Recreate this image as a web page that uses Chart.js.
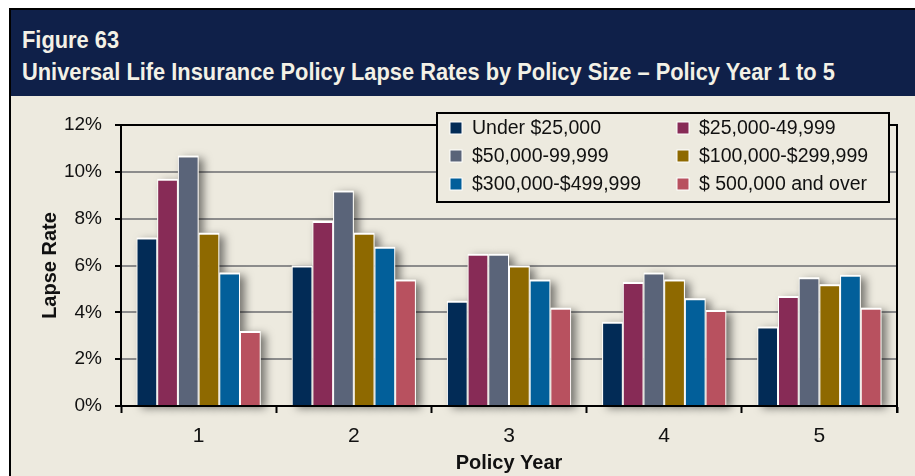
<!DOCTYPE html>
<html>
<head>
<meta charset="utf-8">
<script src="https://cdn.jsdelivr.net/npm/chart.js@4/dist/chart.umd.min.js"></script>
<style>
  body { margin: 0; background: #fff; }
  #fig {
    position: absolute; left: 9px; top: 8px;
    width: 906px; height: 468px;
    border-left: 2px solid #000; border-top: 2px solid #000;
    background: #edeadf; overflow: hidden;
  }
  #hdr {
    position: relative; height: 86px; background: #0f2049; color: #f3f1e6;
    font-family: "Liberation Sans", Arial, sans-serif;
    font-weight: bold; font-size: 24px;
  }
  /* condensed heading face */
  #hdr div { position: absolute; left: 11px; white-space: nowrap; transform: scaleX(0.91); transform-origin: 0 0; }
  .box { position: relative; width: 904px; height: 380px; }
</style>
</head>
<body>
<div id="fig">
  <div id="hdr">
    <div style="top:16px">Figure 63</div>
    <div style="top:48px">Universal Life Insurance Policy Lapse Rates by Policy Size – Policy Year 1 to 5</div>
  </div>
  <div class="box"><canvas id="chart"></canvas></div>
</div>
<script>
const years = ['1', '2', '3', '4', '5'];
const sizeBands = ['Under $25,000', '$25,000-49,999', '$50,000-99,999', '$100,000-$299,999', '$300,000-$499,999', '$ 500,000 and over'];
const bandColors = ['#022b56', '#872b56', '#5a6479', '#8e6900', '#025f9a', '#b8515f'];

// lapse rate, % per policy year
const under25k = [7.2, 6.0, 4.5, 3.6, 3.4];
const from25k = [9.7, 7.9, 6.5, 5.3, 4.7];
const from50k = [10.7, 9.2, 6.5, 5.7, 5.5];
const from100k = [7.4, 7.4, 6.0, 5.4, 5.2];
const from300k = [5.7, 6.8, 5.4, 4.6, 5.6];
const over500k = [3.2, 5.4, 4.2, 4.1, 4.2];

const yTicks = [0, 2, 4, 6, 8, 10, 12];

const bg = '#edeadf';
const sans = '"Liberation Sans", Arial, sans-serif';

const seriesData = [under25k, from25k, from50k, from100k, from300k, over500k];

// soft drop shadow painted behind the bars
const barShadow = {
  id: 'barShadow',
  beforeDatasetsDraw(chart) {
    const ctx = chart.ctx;
    ctx.save();
    ctx.shadowColor = 'rgba(0,0,0,0.5)';
    ctx.shadowBlur = 8;
    ctx.shadowOffsetX = 5;
    ctx.shadowOffsetY = 3;
    ctx.fillStyle = bg;
    chart.data.datasets.forEach((d, i) => {
      chart.getDatasetMeta(i).data.forEach(b => {
        ctx.fillRect(b.x - b.width / 2, b.y, b.width, b.base - b.y);
      });
    });
    ctx.restore();
  }
};

// black frame on top and right of the plot
const frame = {
  id: 'frame',
  beforeDatasetsDraw(chart) {
    const { ctx, chartArea: a } = chart;
    ctx.save();
    ctx.strokeStyle = '#000';
    ctx.lineWidth = 2;
    ctx.beginPath();
    ctx.moveTo(a.left, a.top);
    ctx.lineTo(a.right, a.top);
    ctx.lineTo(a.right, a.bottom + 7);
    ctx.stroke();
    ctx.restore();
  }
};

// boxed two-column legend in the upper right
const boxLegend = {
  id: 'boxLegend',
  afterDraw(chart) {
    const ctx = chart.ctx;
    const x0 = 426, y0 = 17, w = 452, h = 89;
    ctx.save();
    ctx.fillStyle = bg;
    ctx.fillRect(x0, y0, w, h);
    ctx.strokeStyle = '#000';
    ctx.lineWidth = 2;
    ctx.strokeRect(x0, y0, w, h);
    ctx.font = '19.5px ' + sans;
    ctx.textBaseline = 'middle';
    chart.data.datasets.forEach((d, i) => {
      const col = i % 2, row = Math.floor(i / 2);
      const mx = col ? 672 : 445;
      const my = 32 + row * 28;
      ctx.fillStyle = '#fff';
      ctx.fillRect(mx - 6.5, my - 6.5, 13, 13);
      ctx.fillStyle = d.backgroundColor;
      ctx.fillRect(mx - 5.5, my - 5.5, 11, 11);
      ctx.fillStyle = '#111';
      ctx.fillText(d.label, mx + 16, my + 1);
    });
    ctx.restore();
  }
};

new Chart(document.getElementById('chart'), {
  type: 'bar',
  data: {
    labels: years,
    datasets: sizeBands.map((label, i) => ({
      label,
      data: seriesData[i],
      backgroundColor: bandColors[i],
      borderColor: '#fff',
      borderWidth: { top: 2, left: 1, right: 1, bottom: 0 },
      borderSkipped: false,
      barPercentage: 1,
      categoryPercentage: 0.8
    }))
  },
  options: {
    responsive: true,
    maintainAspectRatio: false,
    animation: false,
    layout: { padding: { top: 29, right: 18, left: 0, bottom: 0 } },
    plugins: { legend: { display: false }, tooltip: { enabled: false } },
    scales: {
      x: {
        grid: { offset: true, drawOnChartArea: false, tickLength: 7, tickColor: '#000', tickWidth: 2 },
        border: { color: '#000', width: 2 },
        ticks: { color: '#111', font: { family: sans, size: 21 }, padding: 11 },
        title: { display: true, text: 'Policy Year', color: '#111', font: { family: sans, size: 20, weight: 'bold' }, padding: { top: 0, bottom: 1 } },
        afterFit(s) { s.height = 70; }
      },
      y: {
        min: 0, max: 12,
        afterBuildTicks(s) { s.ticks = yTicks.map(v => ({ value: v })); },
        grid: {
          color: c => c.tick && c.tick.value === 12 ? '#000' : '#8c8c8c',
          lineWidth: 2, tickLength: 6, tickColor: '#000', tickWidth: 2
        },
        border: { color: '#000', width: 2 },
        ticks: { color: '#111', font: { family: sans, size: 19 }, padding: 13, callback: v => v + '%' },
        title: { display: true, text: 'Lapse Rate', color: '#111', font: { family: sans, size: 20, weight: 'bold' }, padding: { top: 27, bottom: 0 } },
        afterFit(s) { s.width = 110; }
      }
    }
  },
  plugins: [barShadow, frame, boxLegend]
});
</script>
</body>
</html>
